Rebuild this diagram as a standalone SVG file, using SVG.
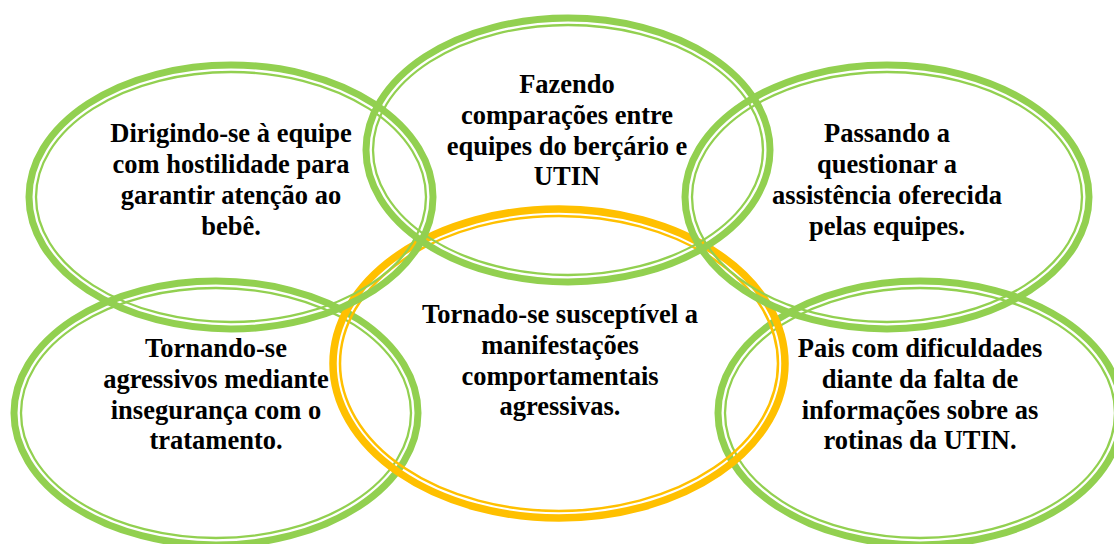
<svg xmlns="http://www.w3.org/2000/svg" width="1114" height="544" viewBox="0 0 1114 544">
<style>
.go{fill:none;stroke:#92D050;stroke-width:7}
.gi{fill:none;stroke:#92D050;stroke-width:2.3}
.oo{fill:none;stroke:#FFC000;stroke-width:7.5}
.oi{fill:none;stroke:#FFC000;stroke-width:2.5}
text{font-family:"Liberation Serif","Times New Roman",serif;font-weight:bold;font-size:26.5px;fill:#000;text-anchor:middle}
</style>
<rect width="1114" height="544" fill="#fff"/>
<g id="n-bl">
<ellipse class="go" cx="216" cy="413" rx="202" ry="132"/>
<ellipse class="gi" cx="216" cy="413" rx="195" ry="125"/>
<text x="216" y="357">Tornando-se</text>
<text x="216" y="388">agressivos mediante</text>
<text x="216" y="419">insegurança com o</text>
<text x="216" y="449">tratamento.</text>
</g>
<g id="n-br">
<ellipse class="go" cx="920" cy="413" rx="202" ry="132"/>
<ellipse class="gi" cx="920" cy="413" rx="195" ry="125"/>
<text x="920" y="357">Pais com dificuldades</text>
<text x="920" y="388">diante da falta de</text>
<text x="920" y="419">informações sobre as</text>
<text x="920" y="449">rotinas da UTIN.</text>
</g>
<g id="n-center">
<ellipse class="oo" cx="559" cy="363.5" rx="226" ry="154.5"/>
<ellipse class="oi" cx="559" cy="363.5" rx="219" ry="147.5"/>
<text x="560" y="323">Tornado-se susceptível a</text>
<text x="560" y="354">manifestações</text>
<text x="560" y="385">comportamentais</text>
<text x="560" y="415">agressivas.</text>
</g>
<g id="n-tl">
<ellipse class="go" cx="231" cy="197" rx="202" ry="132"/>
<ellipse class="gi" cx="231" cy="197" rx="195" ry="125"/>
<text x="231" y="142">Dirigindo-se à equipe</text>
<text x="231" y="173">com hostilidade para</text>
<text x="231" y="204">garantir atenção ao</text>
<text x="231" y="235">bebê.</text>
</g>
<g id="n-tc">
<ellipse class="go" cx="568" cy="150" rx="202" ry="132"/>
<ellipse class="gi" cx="568" cy="150" rx="195" ry="125"/>
<text x="567" y="93">Fazendo</text>
<text x="567" y="124">comparações entre</text>
<text x="567" y="155">equipes do berçário e</text>
<text x="567" y="185">UTIN</text>
</g>
<g id="n-tr">
<ellipse class="go" cx="887" cy="197" rx="202" ry="132"/>
<ellipse class="gi" cx="887" cy="197" rx="195" ry="125"/>
<text x="887" y="142">Passando a</text>
<text x="887" y="173">questionar a</text>
<text x="887" y="204">assistência oferecida</text>
<text x="887" y="235">pelas equipes.</text>
</g>
<g id="connectors"/>
</svg>
